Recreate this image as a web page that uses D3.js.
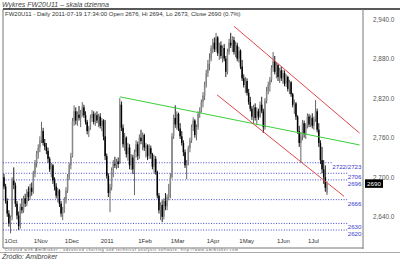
<!DOCTYPE html>
<html>
<head>
<meta charset="utf-8">
<script src="https://cdn.jsdelivr.net/npm/d3@7"></script>
<style>
  body { margin: 0; background: #fff; }
  svg { display: block; font-family: "Liberation Sans", Arial, sans-serif; }
</style>
</head>
<body>
<script>
// daily bars FW20U11, Oct 2010 - 19 Jul 2011: [open, high, low, close]
const ohlc = [
  [2700,2705,2682,2686],[2686,2690,2660,2664],[2664,2668,2640,2645],[2645,2650,2625,2630],[2630,2642,2615,2638],
  [2640,2700,2635,2695],[2695,2715,2682,2688],[2688,2692,2655,2660],[2660,2664,2636,2642],[2642,2648,2620,2626],
  [2626,2660,2622,2655],[2655,2668,2645,2650],[2650,2672,2646,2668],[2668,2675,2655,2660],[2660,2682,2656,2678],
  [2678,2686,2664,2670],[2670,2690,2666,2684],[2684,2692,2672,2678],[2678,2710,2675,2705],[2705,2726,2700,2722],
  [2722,2740,2715,2735],[2735,2750,2728,2745],[2745,2762,2738,2756],[2756,2784,2752,2770],[2770,2775,2748,2752],
  [2752,2758,2741,2746],[2746,2752,2735,2740],[2740,2745,2722,2728],[2728,2731,2708,2712],[2712,2722,2700,2718],
  [2718,2720,2690,2695],[2695,2700,2680,2686],[2686,2691,2668,2672],[2672,2684,2662,2680],[2680,2682,2655,2660],
  [2660,2664,2640,2645],[2645,2655,2635,2650],[2650,2670,2646,2665],[2665,2685,2660,2680],[2680,2705,2676,2700],
  [2700,2722,2696,2718],[2718,2737,2712,2732],[2732,2790,2730,2785],[2785,2809,2778,2800],[2800,2806,2780,2786],
  [2786,2800,2778,2795],[2795,2808,2786,2790],[2790,2802,2776,2798],[2798,2814,2792,2806],[2806,2810,2790,2794],
  [2794,2800,2780,2784],[2784,2787,2765,2770],[2770,2778,2761,2775],[2775,2795,2772,2790],[2790,2802,2784,2796],
  [2796,2800,2780,2784],[2784,2798,2778,2794],[2794,2800,2782,2786],[2786,2796,2776,2792],[2792,2797,2774,2778],
  [2778,2790,2770,2786],[2786,2788,2756,2762],[2762,2787,2726,2732],[2732,2736,2698,2702],[2702,2706,2670,2676],
  [2676,2690,2647,2685],[2685,2715,2680,2710],[2710,2726,2700,2720],[2720,2731,2714,2718],[2718,2728,2712,2724],
  [2724,2730,2714,2720],[2722,2820,2720,2810],[2810,2815,2770,2775],[2775,2780,2745,2750],[2750,2767,2740,2760],
  [2760,2762,2730,2735],[2735,2752,2725,2745],[2745,2750,2712,2718],[2718,2735,2711,2730],[2730,2734,2705,2712],
  [2712,2742,2673,2738],[2738,2756,2730,2750],[2750,2754,2726,2732],[2732,2765,2728,2760],[2760,2772,2750,2755],
  [2755,2768,2741,2764],[2764,2766,2740,2745],[2745,2752,2730,2748],[2748,2750,2726,2732],[2732,2750,2728,2744],
  [2744,2748,2728,2735],[2735,2737,2712,2716],[2716,2734,2706,2728],[2728,2732,2704,2708],[2708,2710,2668,2672],
  [2672,2676,2645,2650],[2650,2662,2635,2658],[2658,2665,2632,2640],[2640,2668,2636,2664],[2664,2676,2650,2656],
  [2656,2674,2650,2670],[2670,2690,2665,2686],[2686,2706,2668,2700],[2700,2767,2698,2762],[2762,2795,2758,2790],
  [2790,2809,2775,2780],[2780,2800,2772,2796],[2796,2798,2770,2774],[2774,2782,2758,2762],[2762,2770,2748,2752],
  [2752,2756,2732,2738],[2738,2742,2714,2718],[2718,2726,2697,2722],[2722,2748,2718,2744],[2744,2760,2738,2756],
  [2756,2780,2752,2776],[2776,2791,2770,2786],[2786,2788,2760,2764],[2764,2780,2756,2776],[2776,2800,2772,2796],
  [2796,2806,2790,2802],[2802,2818,2798,2814],[2814,2829,2806,2824],[2824,2845,2817,2840],[2840,2863,2836,2858],
  [2858,2878,2852,2872],[2872,2888,2862,2880],[2880,2900,2876,2896],[2896,2910,2888,2904],[2904,2912,2890,2894],
  [2894,2919,2890,2912],[2912,2914,2884,2888],[2888,2904,2878,2900],[2900,2906,2880,2884],[2884,2900,2874,2896],
  [2896,2902,2876,2880],[2880,2884,2852,2860],[2860,2895,2856,2890],[2890,2910,2886,2904],[2904,2919,2896,2900],
  [2900,2914,2890,2908],[2908,2913,2886,2890],[2890,2906,2882,2900],[2900,2904,2876,2880],[2880,2898,2874,2892],
  [2892,2894,2864,2868],[2868,2878,2846,2850],[2850,2856,2836,2840],[2840,2852,2828,2846],[2846,2850,2824,2828],
  [2828,2834,2810,2814],[2814,2822,2800,2804],[2804,2808,2787,2792],[2792,2810,2782,2806],[2806,2812,2786,2790],
  [2790,2806,2779,2800],[2800,2804,2787,2792],[2792,2815,2790,2810],[2810,2822,2797,2800],[2800,2804,2767,2776],
  [2776,2820,2772,2816],[2816,2837,2812,2830],[2830,2845,2826,2840],[2840,2852,2830,2848],[2848,2870,2844,2866],
  [2866,2890,2860,2876],[2876,2884,2856,2860],[2860,2874,2850,2870],[2870,2872,2846,2852],[2852,2866,2843,2862],
  [2862,2868,2846,2850],[2850,2863,2842,2858],[2858,2862,2838,2842],[2842,2856,2837,2852],[2852,2854,2830,2834],
  [2834,2848,2826,2844],[2844,2846,2822,2826],[2826,2828,2806,2810],[2810,2818,2796,2812],[2812,2814,2787,2792],
  [2792,2794,2766,2770],[2770,2778,2746,2752],[2752,2768,2722,2762],[2762,2787,2756,2782],[2782,2786,2760,2766],
  [2766,2782,2758,2778],[2778,2797,2774,2792],[2792,2796,2776,2780],[2780,2794,2776,2790],[2790,2797,2774,2778],
  [2778,2792,2772,2788],[2788,2817,2784,2800],[2800,2804,2768,2772],[2772,2782,2746,2752],[2752,2756,2720,2726],
  [2726,2746,2706,2712],[2712,2726,2690,2700],[2700,2718,2678,2684],[2676,2694,2673,2690]
];

const monthIdx = [0, 18, 37, 59, 82, 102, 124, 144, 167, 186];
const monthLabels = ["1Oct", "1Nov", "1Dec", "2011", "1Feb", "1Mar", "1Apr", "1May", "1Jun", "1Jul"];
const yTicks = [2940, 2880, 2820, 2760, 2700, 2640];

const levels = [2722, 2706, 2696, 2666, 2630, 2620];
const levelLabels = ["2722/2723", "2706", "2696", "2666", "2630", "2620"];

// trend lines as [index, price] end points
const greenLine = [[71, 2822], [218, 2749]];
const redUpper = [[141, 2929], [218, 2767]];
const redLower = [[130.6, 2825], [208.5, 2671]];

const lastClose = 2690;

const W = 400, H = 260;
const pLeft = 3, pRight = 363, pTop = 9, pBottom = 248;

const svg = d3.select("body").append("svg")
  .attr("width", W).attr("height", H);

const x = d3.scaleLinear().domain([-0.6, 220.1]).range([pLeft, pRight]);
const y = d3.scaleLinear().domain([2620, 2940]).range([230, 19]);

// titles
svg.append("text").attr("x", 2).attr("y", 7)
  .attr("font-size", 7).attr("font-style", "italic").attr("fill", "#444")
  .text("Wykres FW20U11 \u2013 skala dzienna");

svg.append("text").attr("x", 5).attr("y", 15.5)
  .attr("font-size", 6).attr("fill", "#333")
  .text("FW20U11 - Daily 2011-07-19 17:34:00 Open 2676, Hi 2694, Lo 2673, Close 2690 (0.7%)");

// frame
svg.append("line").attr("x1", pLeft).attr("x2", W).attr("y1", pTop).attr("y2", pTop)
  .attr("stroke", "#222").attr("stroke-width", 1.3);
svg.append("line").attr("x1", pLeft).attr("x2", pLeft).attr("y1", pTop).attr("y2", pBottom)
  .attr("stroke", "#777");
svg.append("line").attr("x1", pRight).attr("x2", pRight).attr("y1", pTop).attr("y2", pBottom + 1)
  .attr("stroke", "#777");
svg.append("line").attr("x1", pLeft).attr("x2", pRight).attr("y1", pBottom).attr("y2", pBottom)
  .attr("stroke", "#777");
svg.append("line").attr("x1", 0).attr("x2", W).attr("y1", 252.5).attr("y2", 252.5)
  .attr("stroke", "#aaa").attr("stroke-width", 1.2);

svg.append("clipPath").attr("id", "clip").append("rect")
  .attr("x", pLeft).attr("y", pTop).attr("width", pRight - pLeft).attr("height", pBottom - pTop);
const plot = svg.append("g").attr("clip-path", "url(#clip)");

// horizontal support / resistance levels
const lvl = plot.append("g");
levels.forEach((v, i) => {
  const t = svg.append("text")
    .attr("x", pRight - 1.5).attr("y", y(v) + 6)
    .attr("text-anchor", "end").attr("font-size", 6.2).attr("fill", "#3b3bd0")
    .text(levelLabels[i]);
  const w = t.node().getComputedTextLength();
  lvl.append("line")
    .attr("x1", pLeft).attr("x2", pRight - 2 - w)
    .attr("y1", y(v)).attr("y2", y(v))
    .attr("stroke", "#4545d0").attr("stroke-width", 1)
    .attr("stroke-dasharray", "1,1.6");
});

// candles
const bw = 1.5;
const candles = plot.append("g");
candles.selectAll("line").data(ohlc).enter().append("line")
  .attr("x1", (d, i) => x(i)).attr("x2", (d, i) => x(i))
  .attr("y1", d => y(d[1])).attr("y2", d => y(d[2]))
  .attr("stroke", d => d[3] >= d[0] ? "#555" : "#000")
  .attr("stroke-width", 0.9);
candles.selectAll("rect").data(ohlc).enter().append("rect")
  .attr("x", (d, i) => x(i) - bw / 2)
  .attr("width", bw)
  .attr("y", d => y(Math.max(d[0], d[3])))
  .attr("height", d => Math.max(0.8, Math.abs(y(d[0]) - y(d[3]))))
  .attr("fill", d => d[3] >= d[0] ? "#888" : "#000");

// trend lines
const line = d3.line().x(d => x(d[0])).y(d => y(d[1]));
plot.append("path").datum(greenLine).attr("d", line)
  .attr("fill", "none").attr("stroke", "#3ccf3c").attr("stroke-width", 1);
[redUpper, redLower].forEach(l => {
  plot.append("path").datum(l).attr("d", line)
    .attr("fill", "none").attr("stroke", "#e04848").attr("stroke-width", 1);
});

// price axis
const yAxis = svg.append("g").attr("transform", `translate(${pRight},0)`)
  .call(d3.axisRight(y).tickValues(yTicks).tickFormat(d3.format(",.1f")).tickSize(0).tickPadding(10));
yAxis.select(".domain").remove();
yAxis.selectAll("text").attr("font-size", 6.4).attr("fill", "#555")
  .attr("font-family", "Liberation Sans, Arial, sans-serif");

// last price marker
const lp = svg.append("g").attr("transform", `translate(${pRight + 2},${y(lastClose)})`);
lp.append("rect").attr("x", 0).attr("y", -4.5).attr("width", 18).attr("height", 8.5).attr("fill", "#000");
lp.append("text").attr("x", 9).attr("y", 2.2).attr("text-anchor", "middle")
  .attr("font-size", 6.2).attr("fill", "#fff").text(lastClose);

// date axis
const xAxis = svg.append("g").attr("transform", `translate(0,${pBottom - 8})`)
  .call(d3.axisBottom(x).tickValues(monthIdx)
    .tickFormat((d, i) => monthLabels[i]).tickSize(0).tickPadding(0));
xAxis.select(".domain").remove();
xAxis.selectAll("text").attr("text-anchor", "start").attr("dy", "0.55em")
  .attr("font-size", 6).attr("fill", "#333")
  .attr("font-family", "Liberation Sans, Arial, sans-serif");

// watermark strip and source
svg.append("text").attr("x", 5).attr("y", 251.3)
  .attr("font-size", 3.6).attr("fill", "#555").attr("textLength", 233)
  .text("Created with AmiBroker - advanced charting and technical analysis software. http://www.amibroker.com");

svg.append("text").attr("x", 2).attr("y", 259)
  .attr("font-size", 7).attr("font-style", "italic").attr("fill", "#444")
  .text("\u0179r\u00f3d\u0142o: Amibroker");
</script>
</body>
</html>
